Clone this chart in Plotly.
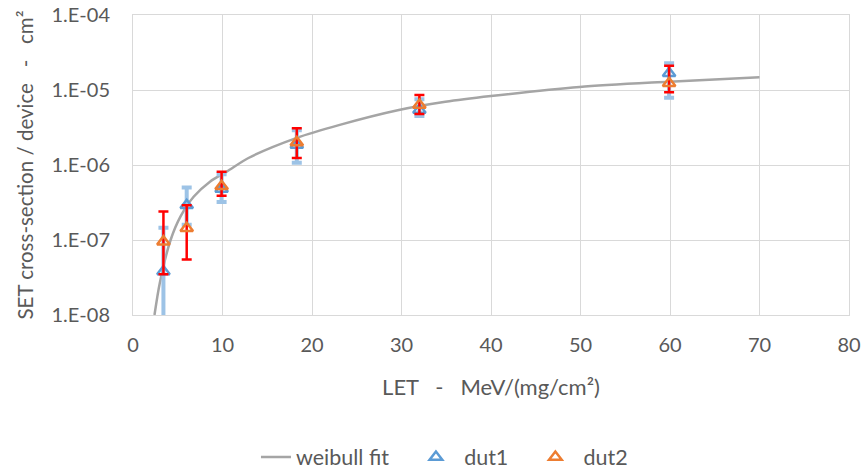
import plotly.graph_objects as go

# LET values of the beam runs (MeV/(mg/cm²))
let_values = [3.4, 6.0, 9.9, 18.3, 32.0, 59.9]

# Device 1 cross-sections with upper / lower confidence bounds (cm²)
dut1_sigma = [3.8e-8, 2.9e-7, 4.8e-7, 1.85e-6, 5.4e-6, 1.67e-5]
dut1_upper = [1.46e-7, 5.0e-7, 7.5e-7, 2.9e-6, 7.5e-6, 2.27e-5]
dut1_lower = [2.0e-9, 1.6e-7, 3.2e-7, 1.07e-6, 4.5e-6, 7.9e-6]

# Device 2 cross-sections with upper / lower confidence bounds (cm²)
dut2_sigma = [9.5e-8, 1.43e-7, 5.2e-7, 2.0e-6, 6.3e-6, 1.23e-5]
dut2_upper = [2.4e-7, 2.9e-7, 8.1e-7, 3.1e-6, 8.6e-6, 2.1e-5]
dut2_lower = [3.5e-8, 5.5e-8, 3.9e-7, 1.24e-6, 4.8e-6, 9.3e-6]

# Weibull fit curve samples
fit_let = [2.4, 3.0, 4.2, 5.3, 6.8, 8.6, 10.5, 12.9, 18.3, 23.0, 29.7, 34.9, 40.0, 49.9, 59.9, 70.0]
fit_sigma = [1.0e-8, 2.7e-8, 1.0e-7, 2.05e-7, 3.8e-7, 6.0e-7, 8.2e-7, 1.24e-6, 2.3e-6, 3.4e-6,
             5.4e-6, 6.95e-6, 8.3e-6, 1.1e-5, 1.29e-5, 1.48e-5]

y_ticks = [1e-8, 1e-7, 1e-6, 1e-5, 1e-4]
y_tick_text = ["1.E-08", "1.E-07", "1.E-06", "1.E-05", "1.E-04"]
x_ticks = [0, 10, 20, 30, 40, 50, 60, 70, 80]

FONT = "Lato, 'Open Sans', sans-serif"
TEXT = "#595959"
GRID = "#D9D9D9"
NB = "\u00a0"
THIN = "\u2009"


def plus(vals, hi):
    return [h - v for v, h in zip(vals, hi)]


def minus(vals, lo):
    return [v - l for v, l in zip(vals, lo)]


fig = go.Figure()

fig.add_trace(go.Scatter(
    x=fit_let, y=fit_sigma, mode="lines", name="weibull fit" + NB * 4,
    line=dict(color="#A5A5A5", width=2.5, shape="spline", smoothing=0.8),
))

fig.add_trace(go.Scatter(
    x=let_values, y=dut1_sigma, mode="markers", name=NB + THIN + "dut1" + NB * 4,
    marker=dict(symbol="triangle-up-open", size=11, color="#5B9BD5",
                line=dict(color="#5B9BD5", width=2.5)),
    error_y=dict(type="data", symmetric=False,
                 array=plus(dut1_sigma, dut1_upper),
                 arrayminus=minus(dut1_sigma, dut1_lower),
                 color="#9DC3E6", thickness=4, width=5),
))

fig.add_trace(go.Scatter(
    x=let_values, y=dut2_sigma, mode="markers", name=NB + THIN + "dut2",
    marker=dict(symbol="triangle-up-open", size=11, color="#ED7D31",
                line=dict(color="#ED7D31", width=2.5)),
    error_y=dict(type="data", symmetric=False,
                 array=plus(dut2_sigma, dut2_upper),
                 arrayminus=minus(dut2_sigma, dut2_lower),
                 color="#FF0000", thickness=2.5, width=5),
))

fig.update_layout(
    width=863, height=470,
    margin=dict(l=133, r=14, t=15, b=155),
    paper_bgcolor="white", plot_bgcolor="white",
    font=dict(family=FONT, size=20, color=TEXT),
    showlegend=True,
    legend=dict(orientation="h", xref="container", yref="container",
                x=0.2966, xanchor="left", y=1 - 457 / 470, yanchor="middle",
                font=dict(family=FONT, size=21.5, color=TEXT), itemwidth=30,
                bgcolor="rgba(0,0,0,0)"),
)

fig.update_xaxes(
    range=[0, 80], tickvals=x_ticks, ticktext=[str(v) for v in x_ticks],
    automargin=False,
    showgrid=True, gridcolor=GRID, gridwidth=1,
    showline=True, linecolor=GRID, linewidth=1, mirror=True,
    zeroline=False, ticks="", ticklabelstandoff=12,
    tickfont=dict(family=FONT, size=20, color=TEXT),
    title=dict(text="LET" + NB * 3 + "-" + NB * 3 + "MeV/(mg/cm²)",
               font=dict(family=FONT, size=22, color=TEXT), standoff=24),
)

fig.update_yaxes(
    type="log", range=[-8, -4], tickvals=y_ticks, ticktext=y_tick_text,
    automargin=False,
    showgrid=True, gridcolor=GRID, gridwidth=1,
    showline=True, linecolor=GRID, linewidth=1, mirror=True,
    zeroline=False, ticks="", ticklabelstandoff=18,
    tickfont=dict(family=FONT, size=20, color=TEXT),
    title=dict(text="SET cross-section / device" + NB * 3 + "-" + NB * 3 + "cm²",
               font=dict(family=FONT, size=20.5, color=TEXT), standoff=12),
)

fig.write_html("out.html")
